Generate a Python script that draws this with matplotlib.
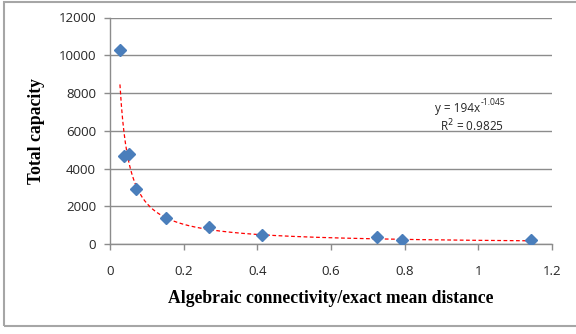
import numpy as np
import matplotlib
matplotlib.use("Agg")
import matplotlib.pyplot as plt
from matplotlib.patches import Rectangle

# data
x_vals = [0.027, 0.038, 0.052, 0.070, 0.152, 0.270, 0.413, 0.724, 0.794, 1.143]
y_vals = [10300, 4660, 4760, 2910, 1375, 900, 476, 350, 212, 212]

# power trendline shown on the chart: y = a * x^b
trend_a = 194
trend_b = -1.045
r_squared = 0.9825

x_ticks = [0, 0.2, 0.4, 0.6, 0.8, 1, 1.2]
x_tick_labels = ["0", "0.2", "0.4", "0.6", "0.8", "1", "1.2"]
y_ticks = [0, 2000, 4000, 6000, 8000, 10000, 12000]

fig = plt.figure(figsize=(5.76, 3.34), dpi=100)
fig.patch.set_facecolor("white")

# chart frame (excel chart area border)
fig.patches.append(Rectangle((4 / 576, 1 - 326 / 334), 1.2, (326 - 2) / 334,
                             transform=fig.transFigure, fill=False,
                             edgecolor="#a6a6a6", linewidth=1.5))

ax = fig.add_axes([110 / 576, 1 - 244 / 334, (552 - 110) / 576, (244 - 17.5) / 334])

# trendline
xt = np.linspace(min(x_vals), max(x_vals), 300)
ax.plot(xt, trend_a * xt ** trend_b, color="red", linestyle=(0, (3, 2)), linewidth=0.9, zorder=2)

ax.plot(x_vals, y_vals, linestyle="none", marker="D", markersize=6.5,
        color="#4a7ebb", markeredgecolor="#4a7ebb", zorder=3)

ax.set_xlim(0, 1.2)
ax.set_ylim(0, 12000)
ax.set_xticks(x_ticks)
ax.set_xticklabels(x_tick_labels)
ax.set_yticks(y_ticks)

ax.grid(axis="y", color="#8c8c8c", linewidth=1.0)
ax.set_axisbelow(True)
for side in ["top", "right"]:
    ax.spines[side].set_visible(False)
for side in ["left", "bottom"]:
    ax.spines[side].set_color("#8c8c8c")
    ax.spines[side].set_linewidth(1.0)

ax.tick_params(axis="both", colors="#8c8c8c", length=4, width=1.0,
               labelsize=9.5, labelcolor="#262626")
ax.tick_params(axis="x", pad=11)
ax.tick_params(axis="y", pad=6)
for lbl in ax.get_xticklabels() + ax.get_yticklabels():
    lbl.set_fontfamily("Open Sans")

ax.set_xlabel("Algebraic connectivity/exact mean distance", fontfamily="Liberation Serif",
              fontweight="bold", fontsize=12.7, labelpad=9)
ax.set_ylabel("Total capacity", fontfamily="Liberation Serif",
              fontweight="bold", fontsize=12.7, labelpad=10)

# trendline equation, superscript as a separate small text so the hyphen stays a hyphen
eq = ax.text(0.837, 0.60, "y = %dx" % trend_a, transform=ax.transAxes,
             ha="right", va="center", fontsize=8.5, fontfamily="Open Sans", color="#262626")
ax.annotate("%.3f" % trend_b, xy=(1, 0.55), xycoords=eq, xytext=(0.5, 0),
            textcoords="offset points", ha="left", va="bottom",
            fontsize=6.2, fontfamily="Open Sans", color="#262626")
ax.text(0.818, 0.52, "R$^{2}$ = %.4f" % r_squared, transform=ax.transAxes,
        ha="center", va="center", fontsize=8.5, fontfamily="Open Sans", color="#262626")

fig.savefig("out.png", dpi=100, facecolor="white")
